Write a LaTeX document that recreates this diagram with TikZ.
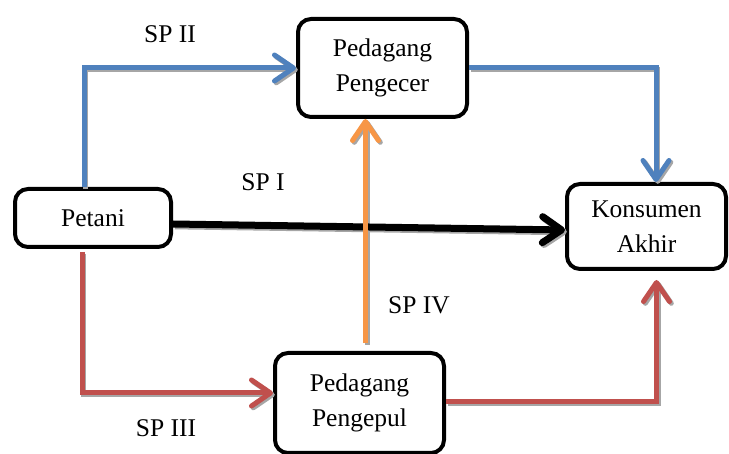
\documentclass[tikz,border=0pt]{standalone}
\usepackage{fontspec}
\setmainfont{Liberation Serif}
\usetikzlibrary{arrows.meta}
\definecolor{flowblue}{HTML}{4F81BD}
\definecolor{flowred}{HTML}{C0504D}
\definecolor{floworange}{HTML}{F79646}
\definecolor{shadowgray}{HTML}{A6A6A6}

\begin{document}
\begin{tikzpicture}[x=1pt,y=-1pt,
  box/.style={draw=black, line width=4pt, rounded corners=13pt, fill=white,
    align=center, font=\fontsize{25.5}{35}\selectfont, inner sep=0pt},
  flow/.style={line width=5pt, -{Straight Barb[length=19pt,width=26pt,round]}},
  shade/.style={draw=shadowgray, transform canvas={shift={(1.8pt,-1.8pt)}}},
  ink/.style={},
  sptext/.style={font=\fontsize{25.5}{30}\selectfont, inner sep=0pt}
]
\useasboundingbox (0,0) rectangle (729,454);

% actors in the marketing chain
\node[box, minimum width=169pt, minimum height=98pt] (pengecer) at (382.5,68) {Pedagang\\Pengecer};
\node[box, minimum width=156pt, minimum height=58pt] (petani) at (93,218) {Petani};
\node[box, minimum width=159pt, minimum height=85pt] (konsumen) at (646.5,226.5) {Konsumen\\Akhir};
\node[box, minimum width=169pt, minimum height=100pt] (pengepul) at (359.5,403) {Pedagang\\Pengepul};

% marketing channels, each with a soft drop shadow
\foreach \layer in {shade,ink} {
  % SP II
  \draw[flow, draw=flowblue, \layer] ([xshift=-9pt]petani.north) |- (pengecer.west);
  \draw[flow, draw=flowblue, \layer] (pengecer.east) -| ([xshift=9.5pt]konsumen.north);
  % SP I
  \draw[flow, line width=7pt, draw=black, \layer] ([yshift=-6pt]petani.east) -- ([yshift=-3.5pt]konsumen.west);
  % SP IV
  \draw[flow, draw=floworange, shorten <=8pt, \layer] ([xshift=6pt]pengepul.north) -- ([xshift=6pt]pengepul.north |- pengecer.south);
  % SP III
  \draw[flow, draw=flowred, shorten <=3pt, \layer] ([xshift=-11pt]petani.south) |- ([yshift=10pt]pengepul.west);
  \draw[flow, draw=flowred, shorten >=9pt, \layer] ([yshift=1pt]pengepul.east) -| ([xshift=10pt]konsumen.south);
}

% channel labels
\node[sptext] (l2) at (170,34) {SP II};
\node[sptext] (l1) at (263,182) {SP I};
\node[sptext] (l4) at (419,305) {SP IV};
\node[sptext] (l3) at (166,428) {SP III};
\end{tikzpicture}
\end{document}
